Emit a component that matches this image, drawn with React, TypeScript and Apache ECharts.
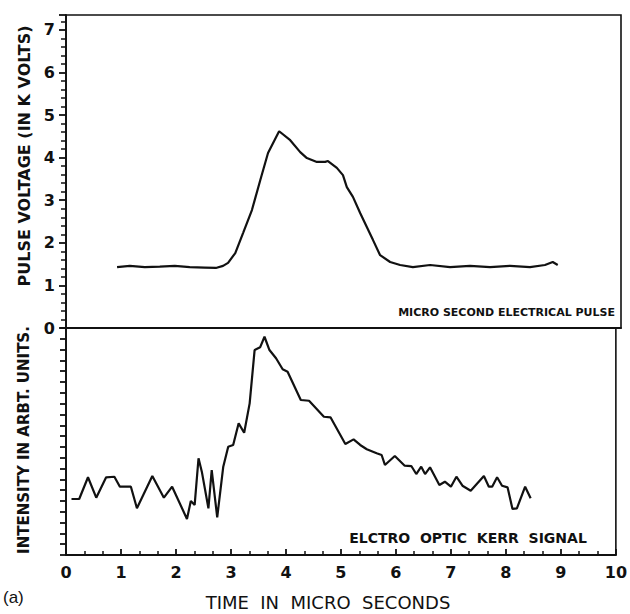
import React, { useEffect, useRef } from 'react';
import * as echarts from 'echarts';

// Top panel: micro second electrical pulse (time in µs, voltage in kV)
const timeTop = [0.92, 1.15, 1.42, 1.69, 1.96, 2.23, 2.5, 2.7, 2.83, 2.92, 3.05, 3.19, 3.35, 3.5, 3.64, 3.84, 4.04, 4.22, 4.34, 4.52, 4.67, 4.72, 4.88, 4.99, 5.06, 5.17, 5.3, 5.42, 5.53, 5.66, 5.84, 6.02, 6.25, 6.56, 6.92, 7.28, 7.64, 8.0, 8.36, 8.63, 8.77, 8.86];
const voltage = [1.43, 1.46, 1.43, 1.44, 1.46, 1.43, 1.42, 1.41, 1.46, 1.53, 1.76, 2.23, 2.77, 3.47, 4.11, 4.62, 4.41, 4.13, 3.99, 3.9, 3.9, 3.92, 3.76, 3.59, 3.31, 3.08, 2.7, 2.37, 2.07, 1.71, 1.55, 1.48, 1.43, 1.48, 1.43, 1.46, 1.43, 1.46, 1.43, 1.48, 1.55, 1.48];

// Bottom panel: electro optic Kerr signal (arbitrary units)
const timeBottom = [0.1, 0.24, 0.4, 0.55, 0.73, 0.88, 0.98, 1.18, 1.29, 1.57, 1.78, 1.93, 2.2, 2.27, 2.34, 2.41, 2.47, 2.59, 2.65, 2.75, 2.86, 2.95, 3.04, 3.14, 3.24, 3.34, 3.43, 3.53, 3.61, 3.7, 3.82, 3.94, 4.03, 4.27, 4.42, 4.69, 4.81, 5.08, 5.23, 5.35, 5.47, 5.65, 5.74, 5.8, 5.98, 6.16, 6.28, 6.37, 6.46, 6.53, 6.62, 6.79, 6.89, 7.0, 7.1, 7.21, 7.36, 7.6, 7.69, 7.75, 7.84, 7.93, 8.03, 8.12, 8.2, 8.35, 8.45];
const intensity = [5.18, 5.18, 7.19, 5.3, 7.19, 7.24, 6.32, 6.32, 4.32, 7.31, 5.3, 6.32, 3.33, 5.0, 4.63, 8.95, 7.71, 4.32, 7.86, 3.49, 8.17, 10.02, 10.18, 12.18, 11.31, 14.03, 18.96, 19.21, 20.19, 18.96, 18.2, 17.18, 16.96, 14.34, 14.27, 12.79, 12.74, 10.27, 10.7, 10.18, 9.78, 9.41, 9.25, 8.33, 9.16, 8.26, 8.23, 7.49, 8.17, 7.49, 8.11, 6.48, 6.78, 6.32, 7.24, 6.41, 5.95, 7.31, 6.32, 6.32, 7.19, 6.41, 6.26, 4.26, 4.32, 6.32, 5.25];

const topYMax = 7.35;
const bottomYMax = 21;
const xMin = 0;
const xMax = 10;

const yTitleTop = 'PULSE VOLTAGE (IN K VOLTS)';
const yTitleBottom = 'INTENSITY IN ARBT. UNITS.';
const xTitle = 'TIME  IN  MICRO  SECONDS';
const topNote = 'MICRO SECOND ELECTRICAL PULSE';
const bottomNote = 'ELCTRO  OPTIC  KERR  SIGNAL';
const panelTag = '(a)';

const INK = '#111';
const FONT = 'DejaVu Sans';

export default function App() {
  const ref = useRef<HTMLDivElement>(null);
  useEffect(() => {
    const chart = echarts.init(ref.current!, null, { renderer: 'svg' });
    const axisLine = { show: true, lineStyle: { color: INK, width: 1.8 } };
    const tickStyle = { color: INK, width: 1.8 };
    const minorStyle = { color: INK, width: 1.5 };
    chart.setOption({
      animation: false,
      backgroundColor: '#fff',
      grid: [
        { left: 66, right: 9, top: 15, height: 313, show: true, borderColor: INK, borderWidth: 1.6 },
        { left: 66, right: 9, top: 328, height: 227, show: true, borderColor: INK, borderWidth: 1.6 },
      ],
      xAxis: [
        {
          gridIndex: 0, type: 'value', min: xMin, max: xMax, interval: 1,
          axisLine, axisTick: { show: false }, axisLabel: { show: false }, splitLine: { show: false },
        },
        {
          gridIndex: 1, type: 'value', min: xMin, max: xMax, interval: 1,
          axisLine,
          axisTick: { show: true, inside: true, length: 6, lineStyle: tickStyle },
          minorTick: { show: true, splitNumber: 3, length: 4, lineStyle: minorStyle },
          axisLabel: { margin: 9, fontSize: 16, fontWeight: 'bold', color: INK, fontFamily: FONT },
          splitLine: { show: false },
        },
      ],
      yAxis: [
        {
          gridIndex: 0, type: 'value', min: 0, max: topYMax, interval: 1,
          axisLine,
          axisTick: { show: true, inside: false, length: 7, lineStyle: tickStyle },
          minorTick: { show: true, splitNumber: 5, length: 5, lineStyle: minorStyle },
          axisLabel: {
            margin: 11, fontSize: 16, fontWeight: 'bold', color: INK, fontFamily: FONT,
            formatter: (v: number) => (Math.abs(v - Math.round(v)) < 1e-6 ? String(Math.round(v)) : ''),
          },
          splitLine: { show: false },
        },
        {
          gridIndex: 1, type: 'value', min: 0, max: bottomYMax, interval: 1,
          axisLine,
          axisTick: { show: true, inside: false, length: 6, lineStyle: tickStyle },
          axisLabel: { show: false },
          splitLine: { show: false },
        },
      ],
      series: [
        {
          type: 'line', xAxisIndex: 0, yAxisIndex: 0, showSymbol: false,
          lineStyle: { color: INK, width: 2.2 },
          data: timeTop.map((t, i) => [t, voltage[i]]),
        },
        {
          type: 'line', xAxisIndex: 1, yAxisIndex: 1, showSymbol: false,
          lineStyle: { color: INK, width: 2.2 },
          data: timeBottom.map((t, i) => [t, intensity[i]]),
        },
      ],
      graphic: [
        {
          type: 'text', x: 24, y: 156, rotation: Math.PI / 2,
          style: { text: yTitleTop, fontSize: 16, fontWeight: 'bold', fontFamily: FONT, fill: INK, align: 'center', verticalAlign: 'middle' },
        },
        {
          type: 'text', x: 24, y: 440, rotation: Math.PI / 2,
          style: { text: yTitleBottom, fontSize: 15, fontWeight: 'bold', fontFamily: FONT, fill: INK, align: 'center', verticalAlign: 'middle' },
        },
        {
          type: 'text', x: 328, y: 602,
          style: { text: xTitle, fontSize: 18, fontFamily: FONT, fill: INK, align: 'center', verticalAlign: 'middle' },
        },
        {
          type: 'text', x: 615, y: 312,
          style: { text: topNote, fontSize: 11, fontWeight: 'bold', fontFamily: FONT, fill: INK, align: 'right', verticalAlign: 'middle' },
        },
        {
          type: 'text', x: 468, y: 538,
          style: { text: bottomNote, fontSize: 14, fontWeight: 'bold', fontFamily: FONT, fill: INK, align: 'center', verticalAlign: 'middle' },
        },
        {
          type: 'text', x: 3, y: 597,
          style: { text: panelTag, fontSize: 17, fontFamily: 'Liberation Sans', fill: INK, align: 'left', verticalAlign: 'middle' },
        },
      ],
    });
    return () => chart.dispose();
  }, []);
  return <div ref={ref} style={{ position: 'fixed', left: 0, top: 0, width: 630, height: 614 }} />;
}
